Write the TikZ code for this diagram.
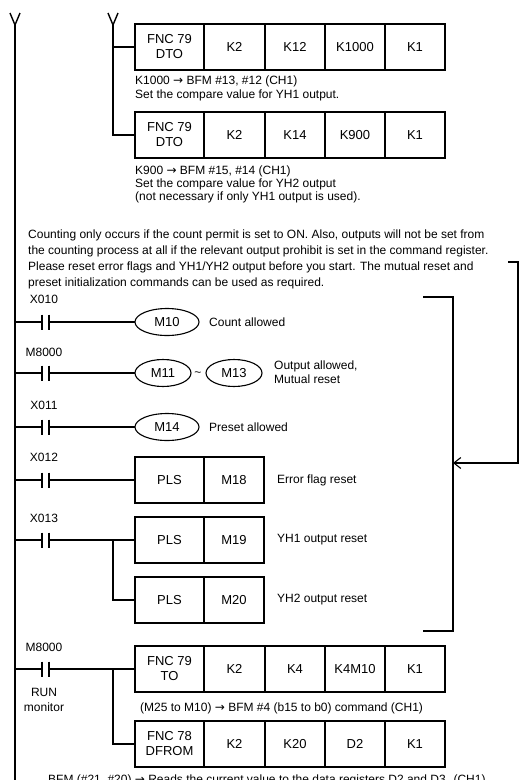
\documentclass[tikz,border=0pt]{standalone}
\usepackage{fontspec}
\setmainfont{Liberation Sans}
\newfontfamily\arrfont{DejaVu Sans}
\newcommand\myarr{{\arrfont →}}
\usetikzlibrary{arrows.meta,shapes.geometric}
\begin{document}
\begin{tikzpicture}[x=1pt,y=-1pt,
  wire/.style={line width=1.4pt},
  cell/.style={draw,line width=1.8pt,outer sep=0pt,inner sep=0pt,minimum height=46pt,align=center,anchor=west,font=\fontsize{13}{15}\selectfont},
  coil/.style={draw,ellipse,line width=1.1pt,minimum width=64pt,minimum height=27pt,inner sep=0pt,outer sep=0pt,font=\fontsize{13}{15}\selectfont},
  lbl/.style={font=\fontsize{12}{14}\selectfont,inner sep=0pt},
  note/.style={font=\fontsize{12}{14}\selectfont,inner sep=0pt,anchor=base west},
  contact/.style={minimum width=7pt,minimum height=15pt,inner sep=0pt,outer sep=0pt},
  bars/.style={line width=1.8pt}]
\useasboundingbox (0,0) rectangle (524,780);

% ---- rails ----
\coordinate (ya) at (10,13); \coordinate (yb) at (15,25); \coordinate (yc) at (20,13);
\coordinate (rb) at (15,790);
\draw[wire] (ya) -- (yb) -- (yc);
\draw[wire] (yb) -- (rb);
\coordinate (za) at (108,13); \coordinate (zb) at (113,25); \coordinate (zc) at (118,13);
\draw[wire] (za) -- (zb) -- (zc);

% ---- box 1 ----
\node[cell,minimum width=69pt] (a1) at (135,47) {FNC 79\\DTO};
\node[cell,minimum width=61pt] (a2) at (a1.east) {K2};
\node[cell,minimum width=60pt] (a3) at (a2.east) {K12};
\node[cell,minimum width=60pt] (a4) at (a3.east) {K1000};
\node[cell,minimum width=60pt] (a5) at (a4.east) {K1};
\node[note] (n1) at (135,84) {K1000 \myarr{} BFM \#13, \#12 (CH1)};
\node[note] (n2) at (135,98) {Set the compare value for YH1 output.};

% ---- box 2 ----
\node[cell,minimum width=69pt] (b1) at (135,135) {FNC 79\\DTO};
\node[cell,minimum width=61pt] (b2) at (b1.east) {K2};
\node[cell,minimum width=60pt] (b3) at (b2.east) {K14};
\node[cell,minimum width=60pt] (b4) at (b3.east) {K900};
\node[cell,minimum width=60pt] (b5) at (b4.east) {K1};
\node[note] (n3) at (135,174) {K900 \myarr{} BFM \#15, \#14 (CH1)};
\node[note] (n4) at (135,187) {Set the compare value for YH2 output};
\node[note] (n5) at (135,200) {(not necessary if only YH1 output is used).};

\coordinate (zt) at (113,47);
\coordinate (zd) at (113,135);
\draw[wire] (zb) -- (zd) -- (b1.west);
\draw[wire] (zt) -- (a1.west);

% ---- paragraph ----
\node[note] (p1) at (28,238) {Counting only occurs if the count permit is set to ON. Also, outputs will not be set from};
\node[note] (p2) at (28,254) {the counting process at all if the relevant output prohibit is set in the command register.};
\node[note] (p3) at (28,270) {Please reset error flags and YH1/YH2 output before you start. The mutual reset and};
\node[note] (p4) at (28,286) {preset initialization commands can be used as required.};

% ---- brackets ----
\coordinate (q1) at (508,262); \coordinate (q2) at (518,262);
\coordinate (q3) at (518,463); \coordinate (q4) at (453,463);
\draw[wire,-{Straight Barb[length=7pt,width=11pt,line width=1.1pt]}] (q1) -- (q2) -- (q3) -- (q4);
\coordinate (k1) at (423,297); \coordinate (k2) at (453,297);
\coordinate (k3) at (453,631); \coordinate (k4) at (423,631);
\draw[wire] (k1) -- (k2) -- (k3) -- (k4);

% ---- rung X010 ----
\node[lbl] (l1) at (44,299) {X010};
\node[contact] (c1) at (45.5,322) {};
\node[coil] (m10) at (167,322) {M10};
\node[note,anchor=west] (t1) at (209,322) {Count allowed};
\coordinate (r1) at (15,322);
\draw[wire] (r1) -- (c1.west) (c1.east) -- (m10.west);
\draw[bars] (c1.north west) -- (c1.south west) (c1.north east) -- (c1.south east);

% ---- rung M8000 ----
\node[lbl] (l2) at (44,352) {M8000};
\node[contact] (c2) at (45.5,373) {};
\node[coil,minimum width=56pt] (m11) at (163,373) {M11};
\node[lbl] (tl) at (198,374) {\textasciitilde};
\node[coil,minimum width=56pt] (m13) at (234,373) {M13};
\node[note,anchor=base west] (t2) at (274,369) {Output allowed,};
\node[note,anchor=base west] (t3) at (274,383) {Mutual reset};
\coordinate (r2) at (15,373);
\draw[wire] (r2) -- (c2.west) (c2.east) -- (m11.west);
\draw[bars] (c2.north west) -- (c2.south west) (c2.north east) -- (c2.south east);

% ---- rung X011 ----
\node[lbl] (l3) at (44,405) {X011};
\node[contact] (c3) at (45.5,427) {};
\node[coil] (m14) at (167,427) {M14};
\node[note,anchor=west] (t4) at (209,427) {Preset allowed};
\coordinate (r3) at (15,427);
\draw[wire] (r3) -- (c3.west) (c3.east) -- (m14.west);
\draw[bars] (c3.north west) -- (c3.south west) (c3.north east) -- (c3.south east);

% ---- rung X012 ----
\node[lbl] (l4) at (44,457) {X012};
\node[contact] (c4) at (45.5,480) {};
\node[cell,minimum width=69pt] (d1) at (135,480) {PLS};
\node[cell,minimum width=60pt] (d2) at (d1.east) {M18};
\node[note,anchor=west] (t5) at (277,480) {Error flag reset};
\coordinate (r4) at (15,480);
\draw[wire] (r4) -- (c4.west) (c4.east) -- (d1.west);
\draw[bars] (c4.north west) -- (c4.south west) (c4.north east) -- (c4.south east);

% ---- rung X013 ----
\node[lbl] (l5) at (44,518) {X013};
\node[contact] (c5) at (45.5,540) {};
\node[cell,minimum width=69pt] (e1) at (135,540) {PLS};
\node[cell,minimum width=60pt] (e2) at (e1.east) {M19};
\node[note,anchor=west] (t6) at (277,540) {YH1 output reset};
\node[cell,minimum width=69pt] (f1) at (135,600) {PLS};
\node[cell,minimum width=60pt] (f2) at (f1.east) {M20};
\node[note,anchor=west] (t7) at (277,600) {YH2 output reset};
\coordinate (r5) at (15,540);
\coordinate (j5) at (113,540);
\draw[wire] (r5) -- (c5.west) (c5.east) -- (e1.west);
\draw[wire] (j5) |- (f1.west);
\draw[bars] (c5.north west) -- (c5.south west) (c5.north east) -- (c5.south east);

% ---- rung M8000 RUN ----
\node[lbl] (l6) at (44,647) {M8000};
\node[contact] (c6) at (45.5,669) {};
\node[lbl] (l7) at (44,692) {RUN};
\node[lbl] (l8) at (44,707) {monitor};
\node[cell,minimum width=69pt] (g1) at (135,669) {FNC 79\\TO};
\node[cell,minimum width=61pt] (g2) at (g1.east) {K2};
\node[cell,minimum width=60pt] (g3) at (g2.east) {K4};
\node[cell,minimum width=60pt] (g4) at (g3.east) {K4M10};
\node[cell,minimum width=60pt] (g5) at (g4.east) {K1};
\node[note] (n6) at (140,711) {(M25 to M10) \myarr{} BFM \#4 (b15 to b0) command (CH1)};
\node[cell,minimum width=69pt] (h1) at (135,744) {FNC 78\\DFROM};
\node[cell,minimum width=61pt] (h2) at (h1.east) {K2};
\node[cell,minimum width=60pt] (h3) at (h2.east) {K20};
\node[cell,minimum width=60pt] (h4) at (h3.east) {D2};
\node[cell,minimum width=60pt] (h5) at (h4.east) {K1};
\node[note] (n7) at (48,783) {BFM (\#21, \#20) \myarr{} Reads the current value to the data registers D2 and D3. (CH1)};
\coordinate (r6) at (15,669);
\coordinate (j6) at (113,669);
\draw[wire] (r6) -- (c6.west) (c6.east) -- (g1.west);
\draw[wire] (j6) |- (h1.west);
\draw[bars] (c6.north west) -- (c6.south west) (c6.north east) -- (c6.south east);
\end{tikzpicture}
\end{document}
